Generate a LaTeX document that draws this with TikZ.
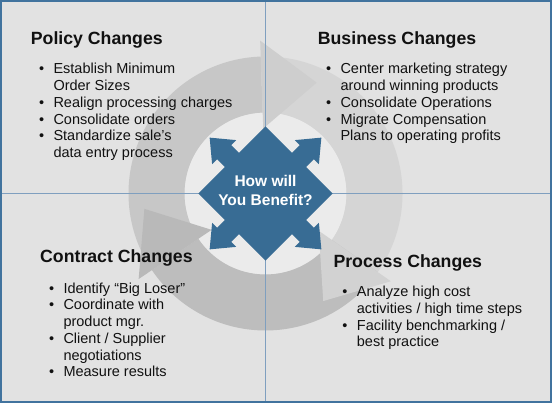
\documentclass[tikz,border=0pt]{standalone}
\usepackage{fontspec}
\setmainfont{Liberation Sans}
\usetikzlibrary{calc}
\definecolor{bg}{HTML}{E2E2E2}
\definecolor{disk}{HTML}{EBEBEB}
\definecolor{arcA}{HTML}{C7C7C7}
\definecolor{headA}{HTML}{CECECE}
\definecolor{arcB}{HTML}{D5D5D5}
\definecolor{headB}{HTML}{D2D2D2}
\definecolor{arcC}{HTML}{BDBDBD}
\definecolor{headC}{HTML}{B9B9B9}
\definecolor{frameblue}{HTML}{41739E}
\definecolor{divblue}{HTML}{7F9FBF}
\definecolor{hub}{HTML}{386C94}
\definecolor{ink}{HTML}{111111}
\begin{document}
\begin{tikzpicture}[x=1pt,y=1pt,
  heading/.style={anchor=base west, inner sep=0pt, font=\fontsize{17.7}{20}\selectfont\bfseries, text=ink},
  itemtext/.style={anchor=base west, inner sep=0pt, font=\fontsize{14.5}{16.7}\selectfont, text=ink},
  bulletdot/.style={anchor=base, inner sep=0pt, font=\fontsize{14.5}{16.7}\selectfont, text=ink},
  hubtext/.style={anchor=base, inner sep=0pt, font=\fontsize{15.5}{18}\selectfont\bfseries, text=white},
  divline/.style={draw=divblue, line width=1.4pt},
]
\useasboundingbox (0,0) rectangle (552,403);
\fill[bg] (0,0) rectangle (552,403);
\coordinate (C) at (265.5,209.5);
\begin{scope}[shift={(C)}]
  \fill[disk] (0,0) circle[radius=81];
  \fill[arcA] (214:81) arc[start angle=214,end angle=92,radius=81] -- (92:137) arc[start angle=92,end angle=214,radius=137] -- cycle;
  \fill[arcB] (92:81) arc[start angle=92,end angle=-35,radius=81] -- (-35:137) arc[start angle=-35,end angle=92,radius=137] -- cycle;
  \fill[arcC] (-35:81) arc[start angle=-35,end angle=-146,radius=81] -- (-146:137) arc[start angle=-146,end angle=-35,radius=137] -- cycle;
  \foreach \a/\c in {92/headA,-35/headB,214/headC}
    \fill[\c] (\a:65) -- (\a:153) -- ($(\a:109)+(\a-90:55)$) -- cycle;
\end{scope}
% quadrant dividers
\coordinate (vt) at (265.5,403);
\coordinate (vb) at (265.5,0);
\coordinate (hl) at (0,209.5);
\coordinate (hr) at (552,209.5);
\draw[divline] (vb) -- (vt);
\draw[divline] (hl) -- (hr);
% central hub
\begin{scope}[shift={(C)}]
  \fill[hub] (67,0) \foreach \r in {45,135,225,315} {
     -- ([rotate=\r]47.4,-10) -- ([rotate=\r]58.5,-10) -- ([rotate=\r]58.5,-17)
     -- ([rotate=\r]79,0) -- ([rotate=\r]58.5,17) -- ([rotate=\r]58.5,10)
     -- ([rotate=\r]47.4,10) -- ([rotate=\r]47.4,47.4) } -- cycle;
\end{scope}
\node[hubtext] (hub1) at (265.5,216.3) {How will};
\node[hubtext] (hub2) at (265.5,197) {You Benefit?};
% frame
\draw[frameblue, line width=1.8pt] (1,1) rectangle (551,402);
% headings
\node[heading] (policy) at (30.7,358.7) {Policy Changes};
\node[heading] (business) at (317.7,358.7) {Business Changes};
\node[heading] (contract) at (40,140.3) {Contract Changes};
\node[heading] (process) at (333.3,135.7) {Process Changes};
% policy items
\foreach \fl/\txt [count=\i from 0] in {1/{Establish Minimum},0/{Order Sizes},1/{Realign processing charges},1/{Consolidate orders},1/{Standardize sale’s},0/{data entry process}}{
  \node[itemtext] (pol\i) at (53.3,{329-16.7*\i}) {\txt};
  \ifnum\fl=1 \node[bulletdot] (polb\i) at (41.7,{329-16.7*\i}) {\textbullet};\fi
}
% business items
\foreach \fl/\txt [count=\i from 0] in {1/{Center marketing strategy},0/{around winning products},1/{Consolidate Operations},1/{Migrate Compensation},0/{Plans to operating profits}}{
  \node[itemtext] (bus\i) at (340.3,{329-16.7*\i}) {\txt};
  \ifnum\fl=1 \node[bulletdot] (busb\i) at (328.7,{329-16.7*\i}) {\textbullet};\fi
}
% contract items
\foreach \fl/\txt [count=\i from 0] in {1/{Identify “Big Loser”},1/{Coordinate with},0/{product mgr.},1/{Client / Supplier},0/{negotiations},1/{Measure results}}{
  \node[itemtext] (con\i) at (63.3,{109.7-16.7*\i}) {\txt};
  \ifnum\fl=1 \node[bulletdot] (conb\i) at (51.7,{109.7-16.7*\i}) {\textbullet};\fi
}
% process items
\foreach \fl/\txt [count=\i from 0] in {1/{Analyze high cost},0/{activities / high time steps},1/{Facility benchmarking /},0/{best practice}}{
  \node[itemtext] (pro\i) at (356.7,{106.3-16.7*\i}) {\txt};
  \ifnum\fl=1 \node[bulletdot] (prob\i) at (345,{106.3-16.7*\i}) {\textbullet};\fi
}
\end{tikzpicture}
\end{document}
